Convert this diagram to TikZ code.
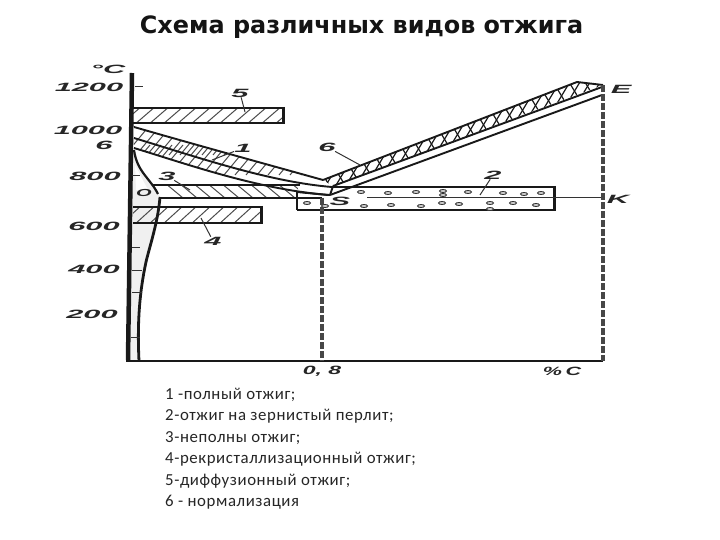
\documentclass[tikz,border=0pt]{standalone}
\usepackage{fontspec}
\setmainfont{DejaVu Sans}
\newfontfamily\scanfont{Liberation Sans}
\newfontfamily\capfont[LetterSpace=3.5]{Carlito}
\begin{document}
\begin{tikzpicture}[x=1pt,y=-1pt,
  ink/.style={draw=black!90,line width=1.9pt},
  thinink/.style={draw=black!80,line width=1pt},
  heavy/.style={draw=black!90,line width=4.5pt},
  hatch/.style={draw=black!70,line width=1pt},
  dashline/.style={draw=black!72,line width=3.2pt,dash pattern=on 7pt off 2pt},
  scanlab/.style={font=\scanfont\bfseries\itshape\fontsize{15}{15}\selectfont,text=black!85,inner sep=0pt,xscale=2.05,yscale=0.8},
  scannarrow/.style={scanlab,xscale=0.7},
  caption/.style={font=\capfont\fontsize{16.8}{16.8}\selectfont,text=black!85,inner sep=0pt,anchor=west},
  grain/.style={draw=black!80,line width=0.9pt,fill=black!15}]
\useasboundingbox (0,0) rectangle (720,540);
\fill[white] (0,0) rectangle (720,540);
\node[font=\bfseries\fontsize{23.9}{23.9}\selectfont,text=black!92,inner sep=0pt] (title) at (361.5,27) {Схема различных видов отжига};

% light shading beside the axis
\fill[black!6] (133,150) .. controls (137,172) and (150,178) .. (158,194) -- (160,197) .. controls (158,222) and (150,245) .. (146,262) .. controls (140,290) and (137,320) .. (139,361) -- (130,361) -- cycle;
\fill[white] (135,165) -- (148,190) -- (136,190) -- cycle;

% bar 5
\begin{scope}
\clip (133,108) rectangle (284,123);
\foreach \i in {0,14,...,168} \draw[hatch] (120+\i,125) -- (142+\i,106);
\end{scope}
% bar 4
\begin{scope}
\clip (133,207) rectangle (262,223);
\foreach \i in {0,14,...,140} \draw[hatch] (120+\i,225) -- (142+\i,205);
\end{scope}
% bar 3
\begin{scope}
\clip (152,185) -- (298,185) -- (298,198) -- (160,198) -- cycle;
\foreach \i in {0,14,...,154} \draw[hatch] (165+\i,183) -- (183+\i,198);
\end{scope}
% band 1
\begin{scope}
\clip (134,127) .. controls (200,146) and (280,168) .. (323,180) -- (333,186) -- (330,195) .. controls (260,190) and (190,165) .. (134,148) -- cycle;
\foreach \i in {0,11,...,209} \draw[hatch] (125+\i,155) -- (150+\i,125);
\foreach \i in {0,11,...,209} \draw[hatch] (125+\i,175) -- (150+\i,145);
\end{scope}
% band 6 cross-hatch
\begin{scope}
\clip (323,180) -- (577,82) -- (603,85) -- (333,186) -- cycle;
\foreach \i in {0,13,...,286} {
  \draw[hatch,draw=black!90,line width=1.2pt] (320+\i,170-0.37*\i) -- (335+\i,195-0.37*\i);
  \draw[hatch,draw=black!90,line width=1.2pt] (320+\i,195-0.37*\i) -- (335+\i,170-0.37*\i);}
\end{scope}

% bar outlines
\draw[ink] (133,108) -- (284,108) (133,123) -- (284,123);
\draw[heavy,line width=3pt] (283,107) -- (283,124);
\draw[ink] (133,207) -- (262,207) (133,223) -- (262,223);
\draw[heavy,line width=3pt] (261,206) -- (261,224);
\draw[ink] (152,185) -- (300,185);
\draw[ink] (160,198) -- (322,198);
% bar 2
\draw[ink] (333,187) -- (555,187) (297,210) -- (555,210);
\draw[ink,line width=2.4pt] (297,192) -- (297,210);
\draw[ink] (297,192) -- (328,195);
\draw[heavy,line width=3pt] (554,186) -- (554,211);
\coordinate (kstart) at (367,198);
\coordinate (kend) at (603,198);
\draw[thinink] (kstart) -- (kend);
\foreach \x/\y in {361/192,388/193,416/192,443/191,443/195,468/192,503/193,524/194,541/193,
  364/206,391/205,421/206,442/203,459/204,490/203,490/209,513/203,536/205,307/203,325/206}
  \draw[grain] (\x,\y) ellipse (3.6pt and 1.5pt);

% band 1 lines
\draw[ink] (134,127) .. controls (200,146) and (280,168) .. (323,180);
\draw[ink] (134,138) .. controls (200,158) and (270,182) .. (332,187);
\draw[ink] (134,148) .. controls (190,165) and (260,190) .. (330,195);
% band 6 lines
\draw[ink] (323,180) -- (577,82) -- (603,85);
\draw[ink] (333,186) -- (602,87);
\draw[ink] (330,195) -- (602,95);
\draw[ink] (333,186) -- (330,195);

% curve GOS and left line
\draw[ink,line width=2.2pt] (134,150) .. controls (137,172) and (150,178) .. (158,194);
\draw[ink,line width=2.8pt] (160,197) .. controls (158,222) and (150,245) .. (146,262) .. controls (140,290) and (137,320) .. (139,361);

% axes
\draw[heavy] (132,73) -- (128,360);
\draw[ink] (126,361) -- (603,361);
\draw[thinink] (135,87) -- (143,87) (132,176) -- (140,176) (132,247) -- (140,247) (132,270) -- (142,270) (132,292) -- (142,292) (131,337) -- (140,337);
\draw[dashline] (322,198) -- (322,361);
\draw[dashline] (603,85) -- (603,361);

% scale labels
\node[scanlab] (tc) at (108,69) {°C};
\node[scanlab] (t12) at (89,87) {1200};
\node[scanlab] (t10) at (88,130) {1000};
\node[scanlab] (tg) at (104,145) {6};
\node[scanlab] (t8) at (95,176) {800};
\node[scanlab] (t6) at (94,226) {600};
\node[scanlab] (t4) at (94,269) {400};
\node[scanlab] (t2) at (92,314) {200};

% curve labels
\node[scanlab] (l5) at (240,93) {5};
\node[scanlab] (l1) at (243,148) {1};
\node[scanlab] (l3) at (167,176) {3};
\node[scanlab] (l4) at (213,241) {4};
\node[scanlab] (l6) at (327,147) {6};
\node[scanlab] (l2) at (493,175) {2};
\node[scanlab,xscale=0.65,yscale=0.85] (lo) at (144,193) {O};
\node[scanlab] (ls) at (340,201) {S};
\node[scanlab] (le) at (621,89) {E};
\node[scanlab] (lk) at (618,199) {K};
\node[scanlab,xscale=0.75] (l08) at (322,371) {0, 8};
\node[scanlab,xscale=0.7] (lc) at (562,371) {\%\,C};
\coordinate (c5) at (245,112);
\coordinate (c1) at (212,160);
\coordinate (c3) at (190,190);
\coordinate (c4) at (201,218);
\coordinate (c6) at (360,165);
\coordinate (c2) at (480,195);
\draw[thinink] (l5) -- (c5);
\draw[thinink] (l1) -- (c1);
\draw[thinink] (l3) -- (c3);
\draw[thinink] (l4) -- (c4);
\draw[thinink] (l6) -- (c6);
\draw[thinink] (l2) -- (c2);

% legend
\node[caption] (a1) at (165,395) {1 -полный отжиг;};
\node[caption] (a2) at (165,416.5) {2-отжиг на зернистый перлит;};
\node[caption] (a3) at (165,438) {3-неполны отжиг;};
\node[caption] (a4) at (165,459.5) {4-рекристаллизационный отжиг;};
\node[caption] (a5) at (165,481) {5-диффузионный отжиг;};
\node[caption] (a6) at (165,502.5) {6 - нормализация};
\end{tikzpicture}
\end{document}
